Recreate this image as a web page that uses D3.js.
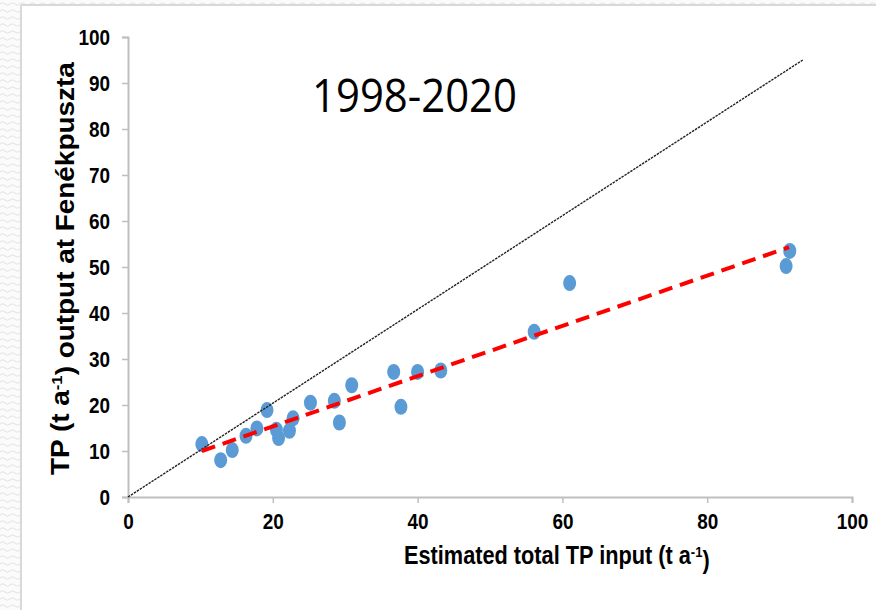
<!DOCTYPE html>
<html><head><meta charset="utf-8">
<script src="https://cdn.jsdelivr.net/npm/d3@7"></script>
<style>html,body{margin:0;padding:0;background:#fff;}svg{display:block;}</style>
</head><body>
<svg id="chart" width="876" height="610"></svg>
<script>
// ---- data ----
const tpInput  = [10.2, 12.8, 14.4, 16.3, 17.8, 19.2, 20.5, 20.8, 22.3, 22.8, 25.2, 28.5, 29.2, 30.9, 37.7, 36.7, 40.0, 43.2, 56.1, 61.0, 91.4, 90.9];
const tpOutput = [11.5,  8.0, 10.2, 13.3, 14.9, 18.9, 14.6, 12.8, 14.4, 17.1, 20.5, 20.9, 16.2, 24.3, 19.6, 27.2, 27.2, 27.5, 35.9, 46.5, 53.5, 50.2];
const fitX = [10.2, 91.3];
const fitY = [10.0, 54.3];
const refX = [0, 93.2];
const refY = [0, 95.0];
const xTicks = [0, 20, 40, 60, 80, 100];
const yTicks = [0, 10, 20, 30, 40, 50, 60, 70, 80, 90, 100];
const titleText = "1998-2020";

const svg = d3.select("#chart");
const W = 876, H = 610;

// background frame pattern
const defs = svg.append("defs");
const pat = defs.append("pattern").attr("id","wave").attr("patternUnits","userSpaceOnUse")
  .attr("width",10).attr("height",7);
pat.append("rect").attr("width",10).attr("height",7).attr("fill","#fbfbfb");
pat.append("path").attr("d","M0,4 Q2.5,1.5 5,4 T10,4").attr("fill","none").attr("stroke","#e2e2e2").attr("stroke-width",1);
svg.append("rect").attr("width",W).attr("height",H).attr("fill","url(#wave)");
svg.append("rect").attr("x",21).attr("y",5).attr("width",W-21).attr("height",H-5).attr("fill","#fff");
svg.append("line").attr("x1",21).attr("x2",21).attr("y1",5).attr("y2",H).attr("stroke","#d9d9d9").attr("stroke-width",2);
svg.append("line").attr("x1",21).attr("x2",W).attr("y1",5).attr("y2",5).attr("stroke","#d9d9d9").attr("stroke-width",2);

const x = d3.scaleLinear().domain([0,100]).range([128,852]);
const y = d3.scaleLinear().domain([0,100]).range([497,37]);

const tickFont = "'Liberation Sans', Arial, sans-serif";

// axes
const xAxis = svg.append("g").attr("transform","translate(0,497)")
  .call(d3.axisBottom(x).tickValues(xTicks).tickSize(6).tickPadding(11).tickFormat(d3.format("d")));
const yAxis = svg.append("g").attr("transform","translate(128,0)")
  .call(d3.axisLeft(y).tickValues(yTicks).tickSize(6).tickPadding(12).tickFormat(d3.format("d")));
[xAxis,yAxis].forEach(g=>{
  g.select(".domain").attr("stroke","#bfbfbf").attr("stroke-width",2);
  g.selectAll(".tick line").attr("stroke","#bfbfbf").attr("stroke-width",1.5);
  g.selectAll(".tick text").attr("fill","#000").style("font-family",tickFont)
    .style("font-weight","700").style("font-size","22px");
});
xAxis.selectAll(".tick text").attr("dy","0.7em");
function squeeze(sel, f){
  sel.each(function(){
    const L = this.getComputedTextLength();
    d3.select(this).attr("textLength", L*f).attr("lengthAdjust","spacingAndGlyphs");
  });
}
squeeze(xAxis.selectAll(".tick text"), 0.86);
squeeze(yAxis.selectAll(".tick text"), 0.86);

// points
svg.append("g").selectAll("ellipse").data(tpInput.map((v,i)=>[v,tpOutput[i]])).join("ellipse")
  .attr("cx",d=>x(d[0])).attr("cy",d=>y(d[1])).attr("rx",6.5).attr("ry",8)
  .attr("fill","#5b9bd5");

// 1:1 line
const line = d3.line().x(d=>x(d[0])).y(d=>y(d[1]));
svg.append("path").datum(refX.map((v,i)=>[v,refY[i]])).attr("d",line)
  .attr("fill","none").attr("stroke","#222").attr("stroke-width",1.4).attr("stroke-dasharray","2.5,1");

// fit line
svg.append("path").datum(fitX.map((v,i)=>[v,fitY[i]])).attr("d",line)
  .attr("fill","none").attr("stroke","#ff0000").attr("stroke-width",4).attr("stroke-dasharray","14,8");

// title
svg.append("text").attr("x",312).attr("y",112).text(titleText)
  .style("font-family","'Open Sans', 'Liberation Sans', sans-serif").style("font-size","46px").attr("fill","#000")
  .attr("textLength",205).attr("lengthAdjust","spacingAndGlyphs");

// helper: scale a multi-tspan text horizontally to a target width
function fitWidth(g, target){
  const t = g.select("text");
  const w = t.node().getComputedTextLength();
  t.attr("transform", `scale(${target/w},1)`);
}

// x title
const xg = svg.append("g").attr("transform","translate(404,564)");
const xt = xg.append("text").attr("fill","#000")
  .style("font-family",tickFont).style("font-weight","700").style("font-size","25px");
xt.append("tspan").text("Estimated total TP input (t a");
xt.append("tspan").text("-1").attr("dy","-0.5em").style("font-size","15px");
xt.append("tspan").text(")").attr("dy","0.5em");
fitWidth(xg, 306);

// y title
const yg = svg.append("g").attr("transform","translate(69,475) rotate(-90)");
const yt = yg.append("text").attr("fill","#000")
  .style("font-family",tickFont).style("font-weight","700").style("font-size","25px");
yt.append("tspan").text("TP (t a");
yt.append("tspan").text("-1").attr("dy","-0.5em").style("font-size","15px");
yt.append("tspan").text(") output at Fenékpuszta").attr("dy","0.5em");
fitWidth(yg, 413);
</script>
</body></html>
